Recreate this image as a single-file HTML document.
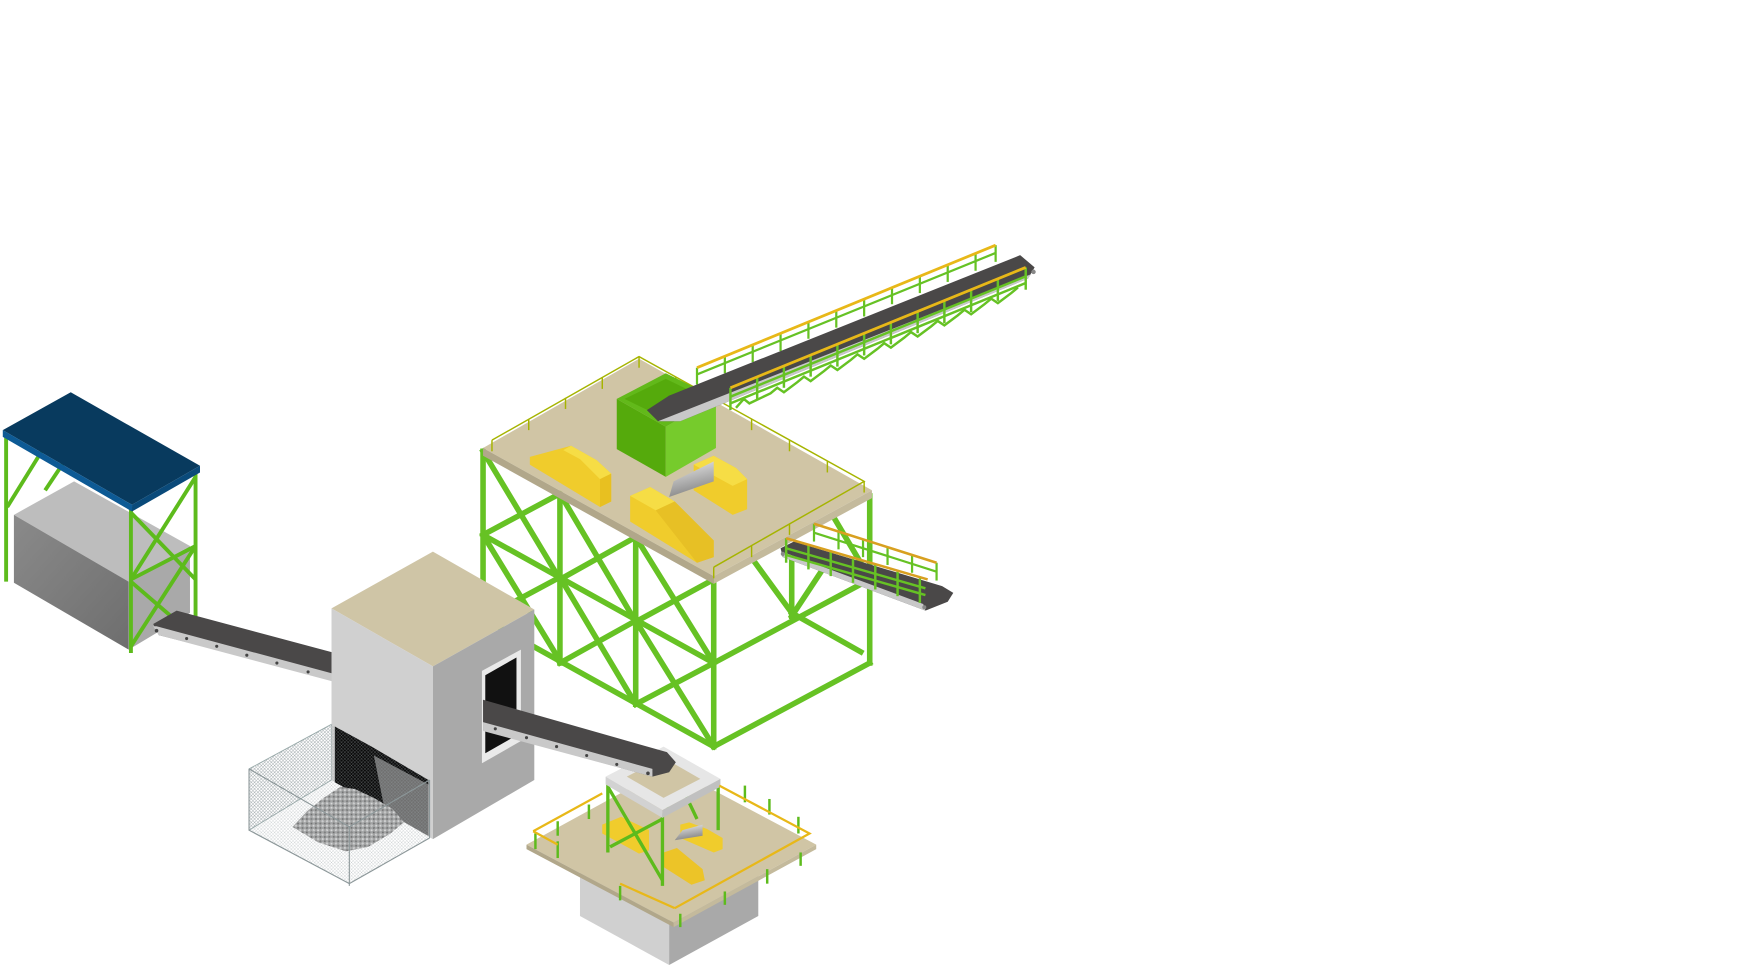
<!DOCTYPE html>
<html><head><meta charset="utf-8"><style>
html,body{margin:0;padding:0;background:#fff;width:1745px;height:965px;overflow:hidden}
svg{display:block}
</style></head><body>
<svg width="1745" height="965" viewBox="0 0 1565 866" xmlns="http://www.w3.org/2000/svg">
<defs>
<pattern id="mesh" width="3" height="3" patternUnits="userSpaceOnUse"><path d="M0 0L3 3M3 0L0 3" stroke="#9aa3a6" stroke-width="0.4"/></pattern>
<pattern id="rock" width="4" height="4" patternUnits="userSpaceOnUse"><rect width="4" height="4" fill="#a5a5a5"/><circle cx="1" cy="1" r="1" fill="#d8d8d8"/><circle cx="3" cy="3" r="0.9" fill="#6f6f6f"/></pattern>
<linearGradient id="cyl" x1="0" y1="0" x2="0.3" y2="1"><stop offset="0" stop-color="#eee"/><stop offset="0.5" stop-color="#bbb"/><stop offset="1" stop-color="#888"/></linearGradient>
<linearGradient id="boxL" x1="0" y1="0" x2="1" y2="1"><stop offset="0" stop-color="#8a8a8a"/><stop offset="1" stop-color="#6e6e6e"/></linearGradient>
</defs>

<g stroke="#5dbb1c" stroke-width="3.5" fill="none">
<line x1="5" y1="392" x2="5" y2="522"/>
<line x1="6" y1="455" x2="40" y2="400"/>
<line x1="40" y1="440" x2="60" y2="410"/>
</g>
<polygon points="12,462 66,432 170,490 115,522" fill="#bdbdbd"/>
<polygon points="12,462 115,522 115,583 12,523" fill="url(#boxL)"/>
<polygon points="115,522 170,490 170,550 115,583" fill="#a9a9a9"/>
<g stroke="#5dbb1c" stroke-width="3.5" fill="none">
<line x1="117" y1="455" x2="117" y2="586"/>
<line x1="175" y1="424" x2="175" y2="576"/>
<line x1="117" y1="460" x2="175" y2="520"/>
<line x1="175" y1="428" x2="117" y2="520"/>
<line x1="117" y1="520" x2="175" y2="490"/>
<line x1="117" y1="580" x2="175" y2="490"/>
<line x1="117" y1="522" x2="175" y2="572"/>
</g>
<polygon points="2,386 63,352 179,418 118,453" fill="#083a5e"/>
<polygon points="2,386 118,453 118,459 2,392" fill="#0d5a95"/>
<polygon points="118,453 179,418 179,424 118,459" fill="#0a4a7a"/>

<polygon points="137,560 158,548 300,586 300,610 142,570" fill="#4a4848"/>
<polygon points="137,562 142,570 300,612 300,605 140,562" fill="#c9c9c9"/>
<g fill="#444"><circle cx="140" cy="566" r="1.6"/><circle cx="167" cy="573" r="1.4"/><circle cx="194" cy="580" r="1.4"/><circle cx="221" cy="588" r="1.4"/><circle cx="248" cy="595" r="1.4"/><circle cx="276" cy="603" r="1.4"/></g>

<polygon points="223,690 297,650 297,700 223,745" fill="url(#mesh)" stroke="#9aa" stroke-width="0.8"/>

<g stroke="#66c224" stroke-width="5" fill="none" stroke-linecap="square">
<line x1="710" y1="500" x2="710" y2="553"/>
<line x1="640" y1="595" x2="780" y2="520"/>
<line x1="640" y1="670" x2="780" y2="595"/>
<line x1="675" y1="502" x2="710" y2="550"/>
<line x1="710" y1="550" x2="772" y2="585"/>
<line x1="747" y1="463" x2="776" y2="512"/>
<line x1="710" y1="553" x2="745" y2="500"/>
<line x1="433" y1="480" x2="640" y2="595"/>
<line x1="433" y1="555" x2="640" y2="670"/>
<line x1="433" y1="405" x2="502" y2="520"/>
<line x1="502" y1="443" x2="433" y2="480"/>
<line x1="502" y1="443" x2="570" y2="558"/>
<line x1="570" y1="482" x2="502" y2="520"/>
<line x1="570" y1="482" x2="640" y2="595"/>
<line x1="640" y1="520" x2="570" y2="558"/>
<line x1="433" y1="480" x2="502" y2="593"/>
<line x1="502" y1="518" x2="433" y2="555"/>
<line x1="502" y1="518" x2="570" y2="632"/>
<line x1="570" y1="557" x2="502" y2="595"/>
<line x1="570" y1="557" x2="640" y2="670"/>
<line x1="640" y1="595" x2="570" y2="632"/>
<line x1="433" y1="405" x2="433" y2="555"/>
<line x1="502" y1="443" x2="502" y2="595"/>
<line x1="570" y1="482" x2="570" y2="632"/>
<line x1="640" y1="520" x2="640" y2="670"/>
<line x1="780" y1="445" x2="780" y2="595"/>
</g>
<polygon points="433,402 573,322 782,440 640,517" fill="#d0c5a5"/>
<polygon points="433,402 640,517 640,524 433,409" fill="#b1a78a"/>
<polygon points="640,517 782,440 782,447 640,524" fill="#c4ba9c"/>
<g stroke="#a6b400" stroke-width="1.3" fill="none">
<polyline points="441,395 573,320 775,432 640,509"/>
<line x1="441" y1="395" x2="441" y2="405"/><line x1="474" y1="376" x2="474" y2="386"/><line x1="507" y1="357" x2="507" y2="367"/><line x1="540" y1="339" x2="540" y2="349"/><line x1="573" y1="320" x2="573" y2="330"/>
<line x1="606" y1="338" x2="606" y2="348"/><line x1="640" y1="357" x2="640" y2="367"/><line x1="674" y1="376" x2="674" y2="386"/><line x1="708" y1="395" x2="708" y2="405"/><line x1="742" y1="414" x2="742" y2="424"/><line x1="775" y1="432" x2="775" y2="442"/>
<line x1="708" y1="470" x2="708" y2="480"/><line x1="674" y1="490" x2="674" y2="500"/><line x1="640" y1="509" x2="640" y2="519"/>
</g>
<polygon points="475,410 512,400 535,413 548,425 548,450 538,455 475,417" fill="#f0cc2c"/>
<polygon points="512,400 535,413 548,425 538,430 520,412 505,404" fill="#f6dd45"/>
<polygon points="538,430 548,425 548,450 538,455" fill="#e8c020"/>
<polygon points="622,417 640,409 660,420 670,430 670,457 657,462 622,440" fill="#f0cc2c"/>
<polygon points="622,417 640,409 660,420 670,430 657,436" fill="#f6dd45"/>
<polygon points="600,446 604,432 640,414 640,432" fill="url(#cyl)"/>
<polygon points="565,445 583,437 605,450 640,485 640,500 625,505 565,468" fill="#f0cc2c"/>
<polygon points="565,445 583,437 605,450 588,458" fill="#f6dd45"/>
<polygon points="588,458 605,450 640,485 640,500 625,505" fill="#e7c025"/>
<polygon points="553,358 597,383 597,428 553,403" fill="#55aa0c"/>
<polygon points="597,383 642,357 642,402 597,428" fill="#76cb2c"/>
<polygon points="553,358 597,335 642,357 597,383" fill="#62b91a"/>
<polygon points="560,358 597,340 632,357 597,376" fill="#55aa0c"/>
<g stroke="#66c224" stroke-width="2" fill="none">
<line x1="625" y1="336" x2="893" y2="227"/>
<line x1="625" y1="330" x2="625" y2="345"/><line x1="650" y1="320" x2="650" y2="335"/><line x1="675" y1="310" x2="675" y2="325"/><line x1="700" y1="300" x2="700" y2="315"/><line x1="725" y1="289" x2="725" y2="304"/><line x1="750" y1="279" x2="750" y2="294"/><line x1="775" y1="269" x2="775" y2="284"/><line x1="800" y1="258" x2="800" y2="273"/><line x1="825" y1="248" x2="825" y2="263"/><line x1="850" y1="238" x2="850" y2="253"/><line x1="875" y1="228" x2="875" y2="243"/><line x1="893" y1="220" x2="893" y2="235"/>
</g>
<line x1="625" y1="330" x2="893" y2="220" stroke="#e8b818" stroke-width="2.5"/>
<polygon points="580,368 600,355 915,229 928,240 922,250 610,378 590,378" fill="#4a4848"/>
<polygon points="590,378 610,378 922,250 925,246" fill="#c8c8c8"/>
<circle cx="927" cy="244" r="2" fill="#888"/>
<g stroke="#66c224" stroke-width="2.2" fill="none">
<line x1="655" y1="356" x2="920" y2="248"/>
<line x1="655" y1="362" x2="920" y2="254"/>
<line x1="655" y1="348" x2="655" y2="368"/><line x1="679" y1="338" x2="679" y2="358"/><line x1="703" y1="328" x2="703" y2="348"/><line x1="727" y1="318" x2="727" y2="338"/><line x1="751" y1="309" x2="751" y2="329"/><line x1="775" y1="299" x2="775" y2="319"/><line x1="799" y1="289" x2="799" y2="309"/><line x1="823" y1="279" x2="823" y2="299"/><line x1="847" y1="270" x2="847" y2="290"/><line x1="871" y1="260" x2="871" y2="280"/><line x1="895" y1="250" x2="895" y2="270"/><line x1="920" y1="240" x2="920" y2="260"/>
<polyline points="660,366 667,358 672,362 691,353 697,348 703,352 715,343 721,338 727,342 739,333 745,328 751,332 763,323 769,318 775,322 787,313 793,308 799,312 811,303 817,298 823,302 835,293 841,288 847,292 859,283 865,278 871,282 883,273 889,268 895,272 907,263 913,258"/>
</g>
<line x1="655" y1="348" x2="920" y2="240" stroke="#e8b818" stroke-width="2.5"/>

<g stroke="#66c224" stroke-width="2" fill="none">
<line x1="730" y1="470" x2="730" y2="486"/><line x1="752" y1="477" x2="752" y2="493"/><line x1="774" y1="484" x2="774" y2="500"/><line x1="796" y1="491" x2="796" y2="507"/><line x1="818" y1="498" x2="818" y2="514"/><line x1="840" y1="505" x2="840" y2="521"/>
<line x1="730" y1="478" x2="840" y2="513"/>
</g>
<line x1="730" y1="470" x2="840" y2="505" stroke="#d8a020" stroke-width="2.3"/>
<polygon points="700,492 712,486 845,526 855,532 850,540 830,548 702,500" fill="#4a4848"/>
<polygon points="702,500 830,548 828,542 704,496" fill="#c8c8c8"/>
<circle cx="829" cy="545" r="1.8" fill="#888"/><circle cx="702" cy="497" r="1.8" fill="#888"/>
<g stroke="#66c224" stroke-width="2.2" fill="none">
<line x1="705" y1="483" x2="705" y2="505"/><line x1="725" y1="489" x2="725" y2="511"/><line x1="745" y1="495" x2="745" y2="517"/><line x1="765" y1="501" x2="765" y2="523"/><line x1="785" y1="507" x2="785" y2="529"/><line x1="805" y1="513" x2="805" y2="535"/><line x1="825" y1="519" x2="825" y2="541"/>
<line x1="705" y1="492" x2="830" y2="528"/><line x1="705" y1="498" x2="830" y2="534"/>
</g>
<line x1="705" y1="483" x2="832" y2="520" stroke="#d8a020" stroke-width="2.3"/>

<polygon points="297,546 388,495 479,547 388,598" fill="#cfc5a6"/>
<polygon points="297,546 388,598 388,753 297,700" fill="#d0d0d0"/>
<polygon points="388,598 479,547 479,700 388,753" fill="#a9a9a9"/>
<polygon points="300,652 333,670 384,700 384,750 300,702" fill="#0b0b0b"/>
<polygon points="335,678 384,704 384,750 345,728" fill="#707070"/>
<polygon points="432,602 467,583 467,665 432,685" fill="#eaeaea"/>
<polygon points="435,606 463,590 463,660 435,676" fill="#111"/>

<polygon points="262,742 275,728 290,716 305,706 318,708 335,716 352,726 362,738 350,748 330,760 310,764 285,756" fill="url(#rock)"/>
<polygon points="223,690 297,650 385,700 385,752 313,793 223,745" fill="url(#mesh)" fill-opacity="0.6" stroke="none"/>
<g stroke="#8c9799" stroke-width="1" fill="none">
<polyline points="223,690 313,742 385,700"/>
<polyline points="223,745 313,793 385,752"/>
<line x1="223" y1="690" x2="223" y2="745"/><line x1="313" y1="742" x2="313" y2="795"/><line x1="385" y1="700" x2="385" y2="752"/>
</g>

<polygon points="520,778 600,822 600,866 520,822" fill="#d0d0d0"/>
<polygon points="600,822 680,778 680,822 600,866" fill="#a9a9a9"/>
<polygon points="472,758 600,688 732,758 604,828" fill="#d0c5a5"/>
<polygon points="472,758 604,828 604,832 472,762" fill="#b1a78a"/>
<polygon points="604,828 732,758 732,762 604,832" fill="#c4ba9c"/>
<polygon points="540,740 557,733 582,745 582,763 573,766 540,748" fill="#f0cc2c"/>
<polygon points="610,740 618,738 634,744 648,752 648,762 640,765 610,752" fill="#f0cc2c"/>
<polygon points="605,754 612,745 630,740 630,750" fill="url(#cyl)"/>
<polygon points="595,765 607,761 630,780 632,790 620,794 595,778" fill="#ecc428"/>
<g stroke="#5dbb1c" stroke-width="3" fill="none">
<line x1="545" y1="703" x2="545" y2="765"/><line x1="594" y1="730" x2="594" y2="795"/><line x1="644" y1="703" x2="644" y2="745"/>
<line x1="545" y1="706" x2="594" y2="790"/><line x1="547" y1="760" x2="594" y2="735"/>
<line x1="606" y1="695" x2="625" y2="735"/><line x1="598" y1="695" x2="598" y2="725"/>
</g>
<polygon points="543,697 595,670 646,699 594,727" fill="#e6e6e6"/>
<polygon points="543,697 594,727 594,734 543,704" fill="#d2d2d2"/>
<polygon points="594,727 646,699 646,706 594,734" fill="#c0c0c0"/>
<polygon points="562,697 595,680 628,699 595,716" fill="#d0c5a5"/>
<g stroke="#5dbb1c" stroke-width="2.2" fill="none">
<line x1="480" y1="748" x2="480" y2="762"/><line x1="500" y1="737" x2="500" y2="750"/><line x1="528" y1="722" x2="528" y2="735"/>
<line x1="668" y1="705" x2="668" y2="720"/><line x1="690" y1="717" x2="690" y2="731"/><line x1="716" y1="733" x2="716" y2="748"/>
<line x1="500" y1="755" x2="500" y2="770"/><line x1="556" y1="795" x2="556" y2="808"/><line x1="610" y1="820" x2="610" y2="832"/><line x1="650" y1="800" x2="650" y2="812"/><line x1="688" y1="780" x2="688" y2="793"/><line x1="718" y1="765" x2="718" y2="777"/>
</g>
<g stroke="#e8b818" stroke-width="2" fill="none">
<polyline points="478,746 540,712"/>
<polyline points="478,746 500,758"/>
<polyline points="645,705 726,748 605,815"/>
<polyline points="556,793 605,815"/>
</g>

<polygon points="433,628 598,675 606,684 600,693 585,697 433,655" fill="#4a4848"/>
<polygon points="433,648 585,690 585,697 433,656" fill="#c9c9c9"/>
<g fill="#444"><circle cx="444" cy="654" r="1.4"/><circle cx="472" cy="662" r="1.4"/><circle cx="499" cy="670" r="1.4"/><circle cx="526" cy="678" r="1.4"/><circle cx="553" cy="686" r="1.4"/><circle cx="581" cy="694" r="1.6"/></g>
</svg>
</body></html>
